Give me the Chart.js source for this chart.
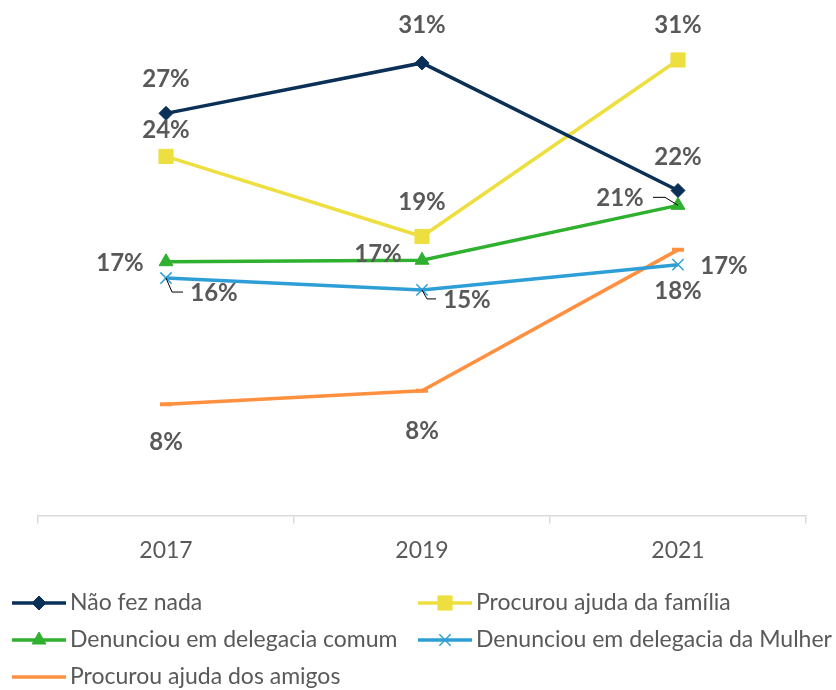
<!DOCTYPE html>
<html>
<head>
<meta charset="utf-8">
<script src="https://cdn.jsdelivr.net/npm/chart.js@4"></script>
<style>
 body { margin: 0; background: #fff; }
</style>
</head>
<body>
<canvas id="lineChart" width="836" height="690"></canvas>
<script>
// データ
const years = ["2017", "2019", "2021"];
const naoFezNada = [27.1, 30.5, 21.9];
const ajudaFamilia = [24.2, 18.8, 30.7];
const delegaciaComum = [17.1, 17.2, 20.9];
const delegaciaMulher = [16.0, 15.2, 16.9];
const ajudaAmigos = [7.5, 8.4, 17.9];

const seriesNames = [
 "Não fez nada",
 "Procurou ajuda da família",
 "Denunciou em delegacia comum",
 "Denunciou em delegacia da Mulher",
 "Procurou ajuda dos amigos"
];

// ラベルの位置 (点からのずれ)
const labelOffsets = [
 [[0, -34], [0, -38], [0, -33]],
 [[0, -26], [0, -34], [0, -35]],
 [[-46, 2], [-44, -6], [-58, -7]],
 [[48, 15], [45, 10], [46, 2]],
 [[0, 38], [0, 40], [0, 41]]
];

// 引き出し線
const leaderLines = [
 { ds: 3, idx: 0, path: [[0, 0], [6, 14], [17, 14]] },
 { ds: 3, idx: 1, path: [[0, 0], [5, 9], [14, 9]] },
 { ds: 2, idx: 2, path: [[0, 0], [-13, -8], [-25, -8]] }
];

const datasets = [
 { label: seriesNames[0], data: naoFezNada, borderColor: "#0a3058", backgroundColor: "#0a3058", pointStyle: "rectRot", pointRadius: 7 },
 { label: seriesNames[1], data: ajudaFamilia, borderColor: "#eedf40", backgroundColor: "#eedf40", pointStyle: "rect", pointRadius: 10 },
 { label: seriesNames[2], data: delegaciaComum, borderColor: "#2fb02f", backgroundColor: "#2fb02f", pointStyle: "triangle", pointRadius: 8 },
 { label: seriesNames[3], data: delegaciaMulher, borderColor: "#2e9fd6", backgroundColor: "#2e9fd6", pointStyle: "crossRot", pointRadius: 8, pointBorderWidth: 1.5 },
 { label: seriesNames[4], data: ajudaAmigos, borderColor: "#ff9040", backgroundColor: "#ff9040", pointStyle: "line", pointRadius: 6, pointBorderWidth: 4 }
].map(d => Object.assign({ borderWidth: 3.5, tension: 0, pointBorderWidth: 1, pointHoverRadius: d.pointRadius }, d));

const labelPlugin = {
 id: "pointLabels",
 afterDatasetsDraw(chart) {
  const ctx = chart.ctx;
  ctx.save();
  // 引き出し線
  ctx.strokeStyle = "#000";
  ctx.lineWidth = 1;
  leaderLines.forEach(l => {
   const pt = chart.getDatasetMeta(l.ds).data[l.idx];
   ctx.beginPath();
   l.path.forEach((p, k) => {
    if (k === 0) ctx.moveTo(pt.x + p[0], pt.y + p[1]);
    else ctx.lineTo(pt.x + p[0], pt.y + p[1]);
   });
   ctx.stroke();
  });
  ctx.font = "bold 24px Lato";
  ctx.fillStyle = "#595959";
  ctx.textAlign = "center";
  ctx.textBaseline = "middle";
  chart.data.datasets.forEach((ds, i) => {
   chart.getDatasetMeta(i).data.forEach((pt, j) => {
    const off = labelOffsets[i][j];
    ctx.fillText(Math.round(ds.data[j]) + "%", pt.x + off[0], pt.y + off[1]);
   });
  });
  ctx.restore();
 }
};

// 凡例の配置
const legendPos = [[12, 603], [418, 603], [12, 640], [418, 640], [12, 677]];

const legendPlugin = {
 id: "customLegend",
 afterDraw(chart) {
  const ctx = chart.ctx;
  ctx.save();
  chart.data.datasets.forEach((ds, i) => {
   const [x, y] = legendPos[i];
   ctx.strokeStyle = ds.borderColor;
   ctx.fillStyle = ds.borderColor;
   ctx.lineWidth = 3.5;
   ctx.beginPath();
   ctx.moveTo(x, y);
   ctx.lineTo(x + 54, y);
   ctx.stroke();
   if (ds.pointStyle !== "line") {
    ctx.lineWidth = ds.pointBorderWidth;
    Chart.helpers.drawPoint(ctx, {
     pointStyle: ds.pointStyle,
     radius: ds.pointRadius,
     borderWidth: ds.pointBorderWidth,
     rotation: 0
    }, x + 27, y);
   }
   ctx.font = "23px Lato";
   ctx.fillStyle = "#595959";
   ctx.textAlign = "left";
   ctx.textBaseline = "middle";
   ctx.fillText(ds.label, x + 58, y);
  });
  ctx.restore();
 }
};

const config = {
 type: "line",
 data: { labels: years, datasets: datasets },
 options: {
  responsive: false,
  animation: false,
  layout: { padding: { left: 38, right: 30, top: 6, bottom: 113 } },
  plugins: { legend: { display: false }, tooltip: { enabled: false } },
  scales: {
   x: {
    offset: true,
    grid: { offset: true, drawOnChartArea: false, tickLength: 8, color: "#d9d9d9", lineWidth: 1.5 },
    border: { color: "#d9d9d9", width: 1.5 },
    ticks: { color: "#595959", font: { family: "Lato", size: 23 }, padding: 13 }
   },
   y: {
    display: false,
    min: 0,
    max: 34
   }
  }
 },
 plugins: [labelPlugin, legendPlugin]
};

const lineChart = new Chart(document.getElementById("lineChart"), config);
</script>
</body>
</html>
